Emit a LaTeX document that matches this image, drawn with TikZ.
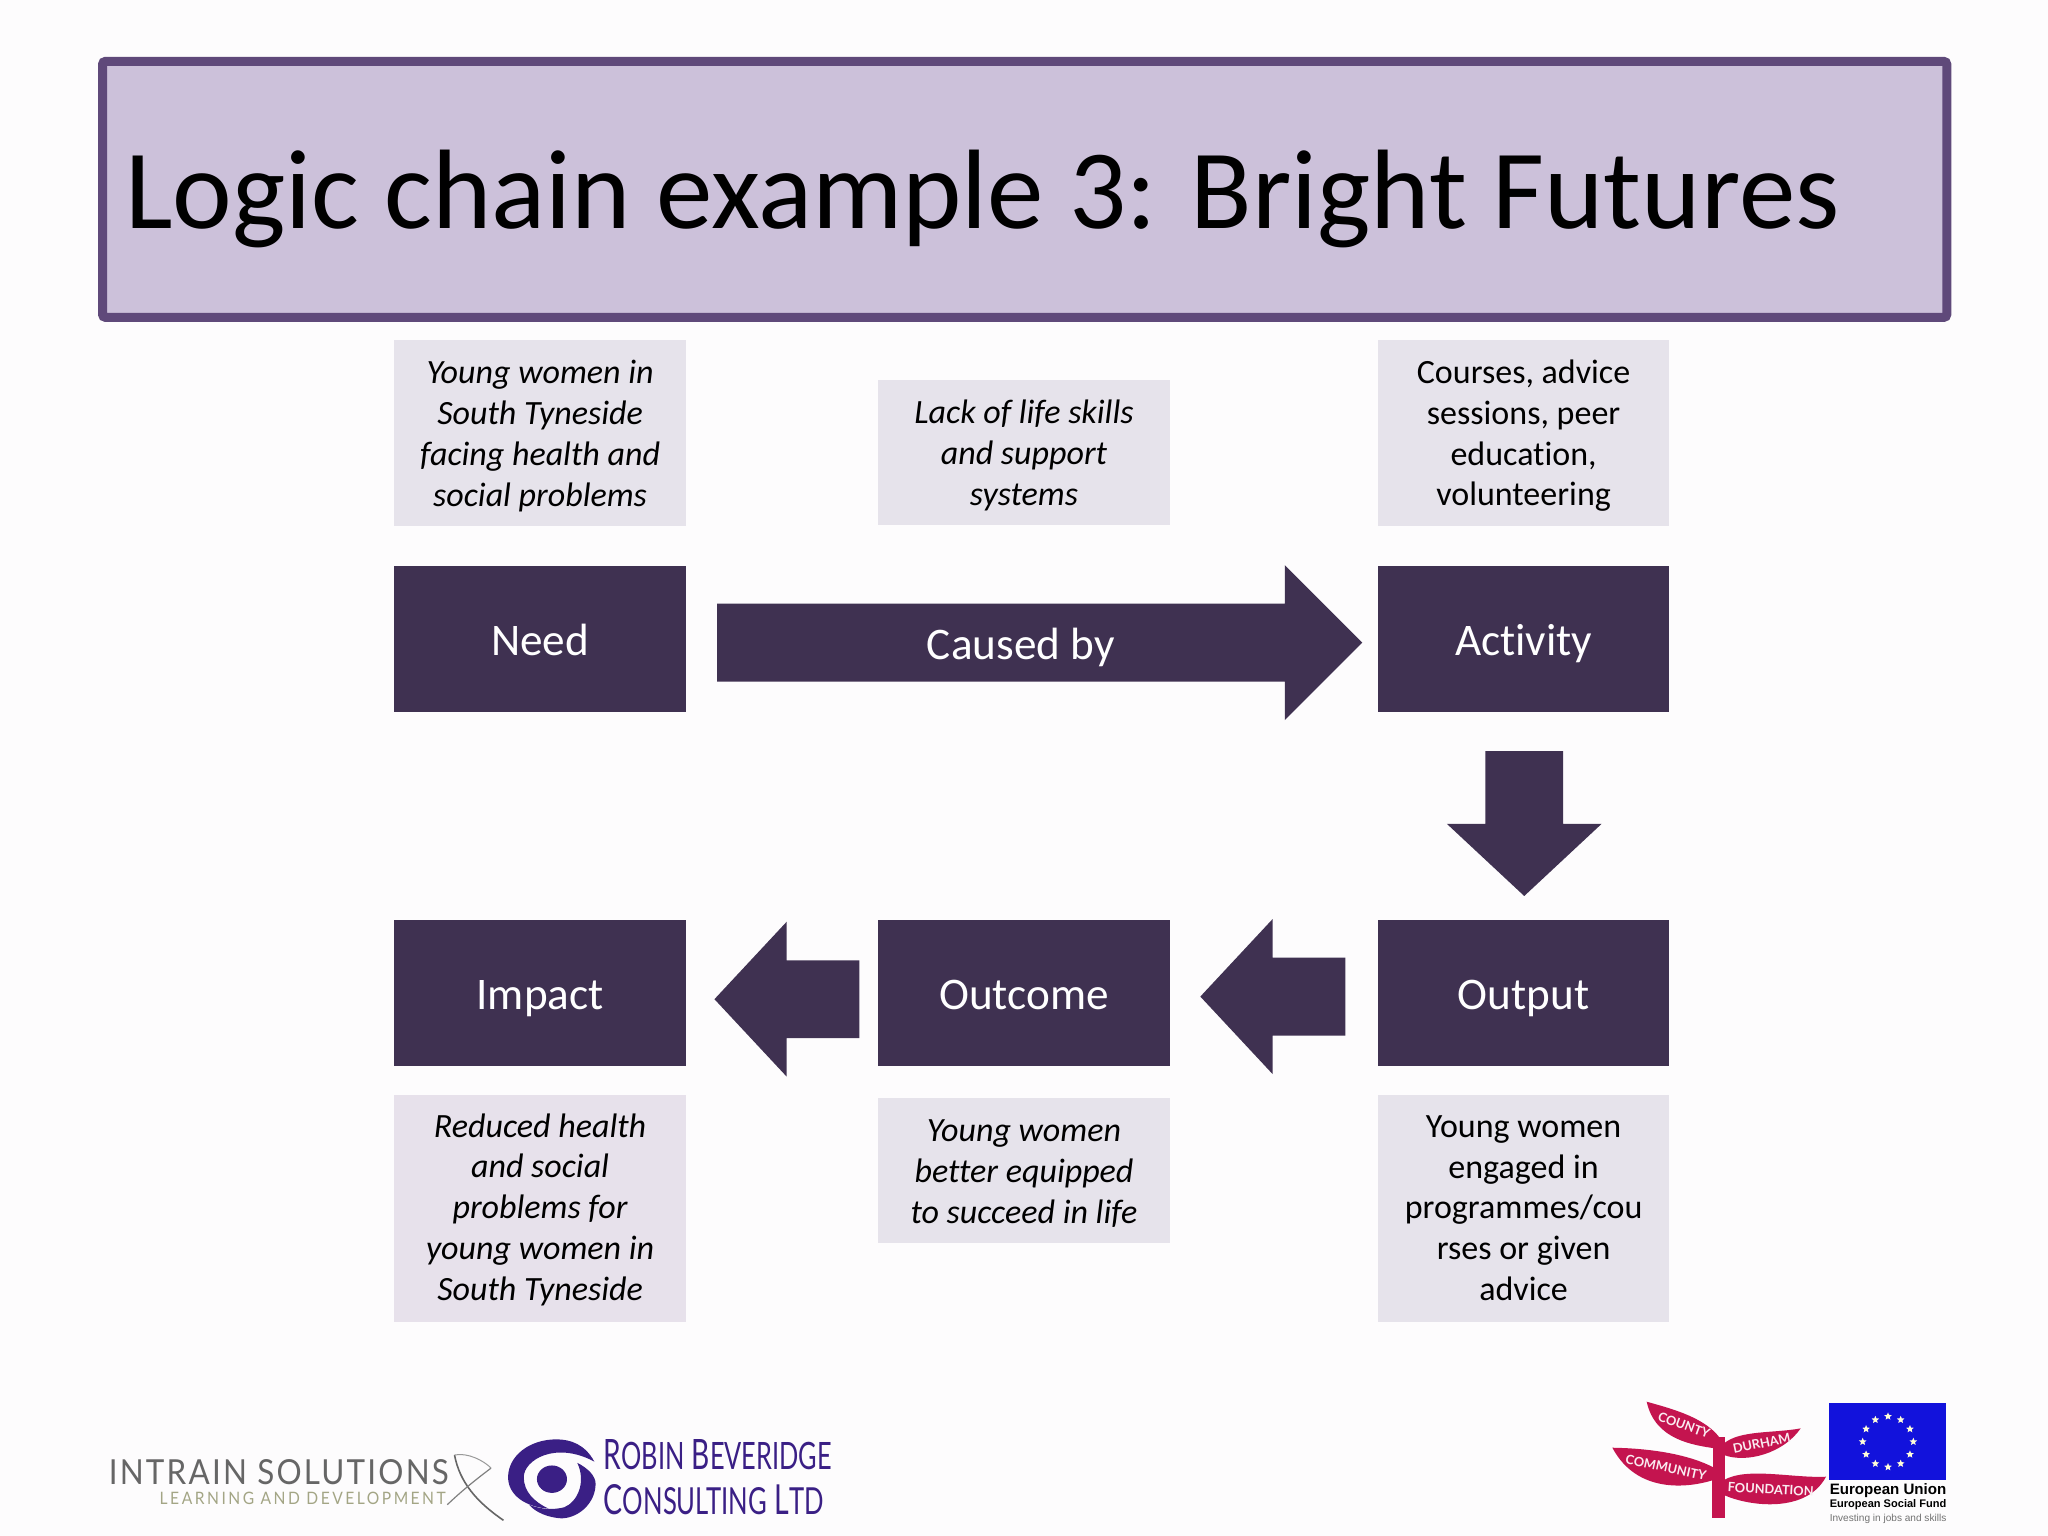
\documentclass[tikz,border=0pt]{standalone}
\usepackage{fontspec}
\usepackage{graphicx}
\setmainfont[Ligatures=NoCommon]{Carlito}
\newfontfamily\logofont{Lato}
\newfontfamily\intrainfont[LetterSpace=7]{Lato}
\newfontfamily\learnfont[LetterSpace=16]{Lato}
\newfontfamily\eufont{Liberation Sans}
\usetikzlibrary{shapes.arrows,shapes.geometric}
\definecolor{pagebg}{HTML}{FDFCFD}
\definecolor{titlefill}{HTML}{CCC1DA}
\definecolor{titleline}{HTML}{5F497A}
\definecolor{darkp}{HTML}{3F3151}
\definecolor{lightp}{HTML}{E6E3EB}
\definecolor{lightq}{HTML}{E7E1EB}
\definecolor{robin}{HTML}{3A1F85}
\definecolor{leaf}{HTML}{C4144F}
\definecolor{eublue}{HTML}{1212DC}
\definecolor{learncol}{HTML}{A3A585}
\newcommand{\uu}{0.6531pt}
\newcommand{\dn}{\rule{0pt}{14.5pt}}
\tikzset{
  x=0.6531pt,y=-0.6531pt,
  bigtext/.style={text height=17.6pt,text depth=1.2pt,font=\fontsize{22.6}{27}\selectfont},
  darkbox/.style={rectangle,fill=darkp,text=white,minimum width=223*\uu,minimum height=112*\uu,inner sep=0pt,bigtext},
  notebox/.style={rectangle,fill=lightp,text=black,minimum width=223*\uu,align=center,inner sep=0pt,font=\fontsize{17}{20.45}\selectfont},
  noteit/.style={notebox,font=\fontsize{17}{20.45}\selectfont\itshape},
  blockarrow/.style={single arrow,fill=darkp,draw=none,inner sep=29.5*\uu,single arrow head extend=29.5*\uu,single arrow tip angle=90,single arrow head indent=0pt,minimum width=118*\uu,outer sep=0pt,anchor=tip},
  shortarrow/.style={blockarrow,single arrow tip angle=94,minimum height=111*\uu},
  logotext/.style={inner sep=0pt,anchor=west},
  leaftext/.style={text=white!92!leaf,inner sep=0pt,font=\logofont\bfseries\fontsize{6.4}{8}\selectfont},
}
\begin{document}
\begin{tikzpicture}
\useasboundingbox (0,0) rectangle (1568,1176);
\fill[pagebg] (0,0) rectangle (1568,1176);

% title
\node (titleframe) at (784.5,145) [rectangle,draw=titleline,line width=4.5pt,fill=titlefill,rounded corners=1.5pt,minimum width=1412*\uu,minimum height=196*\uu,inner sep=0pt] {};
\node (title) at (95.5,175) [anchor=base west,inner sep=0pt,font=\fontsize{56.5}{64}\selectfont] {Logic chain example 3: Bright Futures};

% dark boxes
\node[darkbox] (need) at (413.5,489) {Need};
\node[darkbox] (activity) at (1166.5,489) {Activity};
\node[darkbox] (impact) at (413.5,760) {Impact};
\node[darkbox] (outcome) at (784,760) {Outcome};
\node[darkbox] (output) at (1166.5,760) {Output};

% note boxes
\node[noteit,minimum height=143*\uu] (n1) at (413.5,331.5) {\dn Young women in\\South Tyneside\\facing health and\\social problems};
\node[noteit,minimum height=111*\uu] (n2) at (784,346.5) {\dn Lack of life skills\\and support\\systems};
\node[notebox,minimum height=143*\uu] (n3) at (1166.5,331.5) {\dn Courses, advice\\sessions, peer\\education,\\volunteering};
\node[noteit,fill=lightq,minimum height=174*\uu] (n4) at (413.5,925) {\rule{0pt}{13.4pt}Reduced health\\and social\\problems for\\young women in\\South Tyneside};
\node[noteit,minimum height=111*\uu] (n5) at (784,896) {\dn Young women\\better equipped\\to succeed in life};
\node[notebox,minimum height=174*\uu] (n6) at (1166.5,925) {Young women\\engaged in\\programmes/cou\\rses or given\\advice};

% block arrows
\node[blockarrow,minimum height=494*\uu] (a1) at (1043,492) {};
\node[bigtext] (a1label) at (781.5,492) [text=white,inner sep=0pt] {Caused by};
\node[shortarrow,shape border rotate=270] (a2) at (1167,686) {};
\node[shortarrow,shape border rotate=180] (a3) at (919,763) {};
\node[shortarrow,shape border rotate=180] (a4) at (547,765) {};

% Intrain Solutions logo
\node[logotext,text=black!60] (intrain) at (83,1127) {\resizebox{170pt}{12.5pt}{\intrainfont INTRAIN SOLUTIONS}};
\node[logotext,text=learncol] (learning) at (122,1147) {\resizebox{143pt}{6.2pt}{\learnfont LEARNING AND DEVELOPMENT}};
\draw[black!60,line width=0.8pt] (348,1114) .. controls (352,1135) and (365,1150) .. (385.5,1164);
\draw[black!50,line width=0.6pt] (342.5,1152) .. controls (355,1140) and (368,1130) .. (376,1124);
\draw[black!40,line width=0.5pt] (348,1114) .. controls (358,1112) and (370,1118) .. (376,1124);

% Robin Beveridge logo
\fill[robin] (455,1119) .. controls (448,1106) and (437,1102) .. (426,1102)
  .. controls (405,1102) and (389,1115) .. (389,1131)
  .. controls (389,1145) and (403,1154) .. (420,1155)
  .. controls (409,1150) and (401,1142) .. (401,1131)
  .. controls (401,1118) and (425,1103) .. (455,1119) -- cycle;
\fill[robin] (442,1120) .. controls (450,1124) and (456,1130) .. (456,1136)
  .. controls (456,1150) and (444,1162) .. (430,1162.5)
  .. controls (420,1162) and (410,1158) .. (405,1152)
  .. controls (415,1156) and (424,1156) .. (432,1154)
  .. controls (442,1150) and (449,1135) .. (442,1120) -- cycle;
\fill[robin] (422.6,1132.5) ellipse [x radius=11.5,y radius=10.5];
\node[logotext,text=robin] (robin1) at (462,1114) {\resizebox{114pt}{15pt}{\logofont R{\small OBIN} B{\small EVERIDGE}}};
\node[logotext,text=robin] (robin2) at (462,1148) {\resizebox{110pt}{15pt}{\logofont C{\small ONSULTING} L{\small TD}}};

% County Durham Community Foundation logo
\begin{scope}[shift={(1209.7,1056.6)},x=0.16667pt,y=-0.16667pt]
  \fill[leaf] (395,415) -- (395,270) -- (435,270) -- (435,415) -- cycle;
  \fill[leaf] (400,300) -- (400,170) -- (435,170) -- (435,300) -- cycle;
  \fill[leaf] (200,65) .. controls (290,90) and (400,120) .. (435,200)
    -- (405,205) .. controls (340,195) and (225,180) .. (200,65) -- cycle;
  \fill[leaf] (662,145) .. controls (580,160) and (480,150) .. (432,190)
    -- (432,225) .. controls (500,250) and (610,220) .. (662,145) -- cycle;
  \fill[leaf] (97,203) .. controls (220,205) and (330,225) .. (400,262)
    -- (400,300) .. controls (320,325) and (170,340) .. (97,203) -- cycle;
  \fill[leaf] (738,290) .. controls (640,295) and (500,260) .. (432,300)
    -- (432,345) .. controls (510,380) and (680,400) .. (738,290) -- cycle;
  \node[leaftext,rotate=-20] (county) at (312,135) {COUNTY};
  \node[leaftext,rotate=12] (durham) at (545,190) {DURHAM};
  \node[leaftext,rotate=-12] (community) at (258,262) {COMMUNITY};
  \node[leaftext,rotate=-3] (foundation) at (572,328) {FOUNDATION};

  % EU flag
  \fill[eublue] (748,68) rectangle (1098,300);
  \foreach \i in {1,...,12}
    \node[star,star points=5,star point ratio=2.2,fill=white!85!yellow,inner sep=0pt,minimum size=4pt] (s\i) at ({924+76*cos(30*\i)},{185-76*sin(30*\i)}) {};
  \node[inner sep=0pt,anchor=west] (eu1) at (748,332) {\resizebox{58.3pt}{!}{\eufont\bfseries European Union}};
  \node[inner sep=0pt,anchor=west] (eu2) at (748,375) {\resizebox{58.3pt}{!}{\eufont\bfseries European Social Fund}};
  \node[inner sep=0pt,anchor=west,text=black!55] (eu3) at (748,418) {\resizebox{58.3pt}{!}{\eufont Investing in jobs and skills}};
\end{scope}
\end{tikzpicture}
\end{document}
